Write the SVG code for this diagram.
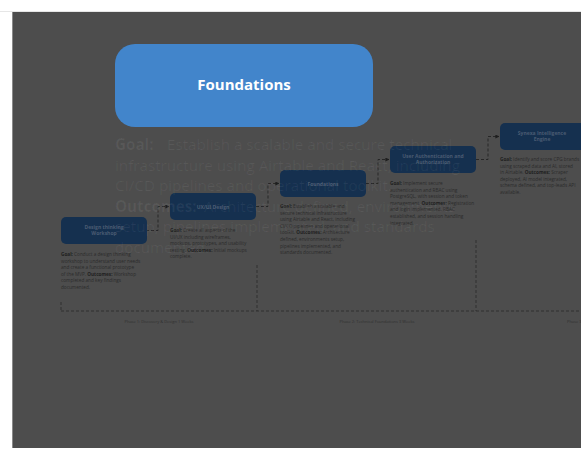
<svg xmlns="http://www.w3.org/2000/svg" width="581" height="466" viewBox="0 0 581 466">
<style>
.node rect{fill:#15304f}
.nl{font-family:"Open Sans","Liberation Sans",sans-serif;font-size:5px;font-weight:bold;fill:#4a5b72;text-anchor:middle}
.desc{font-family:"Open Sans","Liberation Sans",sans-serif;font-size:4.7px;fill:#2b2b2b}
.desc .b{font-weight:bold;fill:#202020}
.conn path{fill:none;stroke:#1e1e1e;stroke-width:0.8;stroke-dasharray:3 2}
.phase line{stroke:#2a2a2a;stroke-width:0.8;stroke-dasharray:3 2}
.pl{font-family:"Open Sans","Liberation Sans",sans-serif;font-size:4px;fill:#303030;text-anchor:middle}
.big{font-family:"Open Sans","Liberation Sans",sans-serif;font-size:15.2px;fill:#ffffff;fill-opacity:0.06}
.big .b{font-weight:bold}
</style>
<defs>
<marker id="ah" viewBox="0 0 10 10" refX="9" refY="5" markerWidth="5" markerHeight="5" orient="auto"><path d="M0,0 L10,5 L0,10 z" fill="#1e1e1e"/></marker>
</defs>
<rect x="0" y="0" width="581" height="466" fill="#ffffff"/>
<line x1="0" y1="11.5" x2="581" y2="11.5" stroke="#e6e6e6" stroke-width="1"/>
<rect x="12" y="12" width="569" height="436" fill="#4d4d4d"/>
<line x1="12.5" y1="12" x2="12.5" y2="448" stroke="#8a8a8a" stroke-width="1"/>

<g id="phases" class="phase">
<line x1="61" y1="311" x2="581" y2="311"/>
<line x1="61" y1="302" x2="61" y2="311"/>
<line x1="257" y1="265" x2="257" y2="311"/>
<line x1="476" y1="240" x2="476" y2="311"/>
<text class="pl" x="159" y="323">Phase 1: Discovery &amp; Design 1 Weeks</text>
<text class="pl" x="377" y="323">Phase 2: Technical Foundations 3 Weeks</text>
<text class="pl" x="567" y="323" style="text-anchor:start">Phase 3</text>
</g>

<g id="connectors" class="conn">
<path d="M146,230.5 H158 V206.5 H169" marker-end="url(#ah)"/>
<path d="M256,206.5 H268 V183.5 H279" marker-end="url(#ah)"/>
<path d="M366,183.5 H378 V159.5 H389" marker-end="url(#ah)"/>
<path d="M476,159.5 H488 V136.5 H499" marker-end="url(#ah)"/>
</g>

<g id="n1" class="node">
<rect x="61" y="217" width="86" height="27" rx="5"/>
<text class="nl" x="104" y="229">Design thinking<tspan x="104" dy="6">Workshop</tspan></text>
<text class="desc" x="61" y="256"><tspan class="b">Goal:</tspan>   Conduct a design thinking<tspan x="61" dy="6.6">workshop to understand user needs</tspan><tspan x="61" dy="6.6">and create a functional prototype</tspan><tspan x="61" dy="6.6">of the MVP.   </tspan><tspan class="b">Outcomes:</tspan>   Workshop<tspan x="61" dy="6.6">completed and key findings</tspan><tspan x="61" dy="6.6">documented.</tspan></text>
</g>

<g id="n2" class="node">
<rect x="170" y="193" width="86" height="27" rx="5"/>
<text class="nl" x="213" y="208.5">UX/UI Design</text>
<text class="desc" x="170" y="232"><tspan class="b">Goal:</tspan>   Create all aspects of the<tspan x="170" dy="6.6">UI/UX including wireframes,</tspan><tspan x="170" dy="6.6">mockups, prototypes, and usability</tspan><tspan x="170" dy="6.6">testing.   </tspan><tspan class="b">Outcomes:</tspan>   Initial mockups<tspan x="170" dy="6.6">complete.</tspan></text>
</g>

<g id="n3" class="node">
<rect x="280" y="170" width="86" height="27" rx="5"/>
<text class="nl" x="323" y="185.5">Foundations</text>
<text class="desc" x="280" y="208"><tspan class="b">Goal:</tspan>   Establish a scalable and<tspan x="280" dy="6.6">secure technical infrastructure</tspan><tspan x="280" dy="6.6">using Airtable and React, including</tspan><tspan x="280" dy="6.6">CI/CD pipelines and operational</tspan><tspan x="280" dy="6.6">toolkit.   </tspan><tspan class="b">Outcomes:</tspan>   Architecture<tspan x="280" dy="6.6">defined, environments setup,</tspan><tspan x="280" dy="6.6">pipelines implemented, and</tspan><tspan x="280" dy="6.6">standards documented.</tspan></text>
</g>

<g id="n4" class="node">
<rect x="390" y="146" width="86" height="27" rx="5"/>
<text class="nl" x="433" y="157.5">User Authentication and<tspan x="433" dy="6">Authorization</tspan></text>
<text class="desc" x="390" y="185"><tspan class="b">Goal:</tspan>   Implement secure<tspan x="390" dy="6.6">authentication and RBAC using</tspan><tspan x="390" dy="6.6">PostgreSQL, with session and token</tspan><tspan x="390" dy="6.6">management.   </tspan><tspan class="b">Outcomes:</tspan>   Registration<tspan x="390" dy="6.6">and login implemented, RBAC</tspan><tspan x="390" dy="6.6">established, and session handling</tspan><tspan x="390" dy="6.6">integrated.</tspan></text>
</g>

<g id="n5" class="node">
<rect x="500" y="123" width="86" height="27" rx="5"/>
<text class="nl" x="542" y="134.5">Synexa Intelligence<tspan x="542" dy="6">Engine</tspan></text>
<text class="desc" x="500" y="161"><tspan class="b">Goal:</tspan>   Identify and score CPG brands<tspan x="500" dy="6.6">using scraped data and AI, stored</tspan><tspan x="500" dy="6.6">in Airtable.   </tspan><tspan class="b">Outcomes:</tspan>   Scraper<tspan x="500" dy="6.6">deployed, AI model integrated,</tspan><tspan x="500" dy="6.6">schema defined, and top-leads API</tspan><tspan x="500" dy="6.6">available.</tspan></text>
</g>

<g id="popup">
<rect x="115" y="44" width="258" height="83" rx="20" fill="#4285cb"/>
<text x="244" y="90" text-anchor="middle" font-family="'Open Sans','Liberation Sans',sans-serif" font-size="15" font-weight="bold" fill="#ffffff">Foundations</text>
<text class="big" x="115" y="150"><tspan class="b">Goal:</tspan><tspan x="167">Establish a scalable and secure technical</tspan><tspan x="115" dy="20.5">infrastructure using Airtable and React, including</tspan><tspan x="115" dy="20.5">CI/CD pipelines and operational toolkit.</tspan><tspan x="115" dy="20.5" class="b">Outcomes:</tspan><tspan x="204">Architecture defined, environments</tspan><tspan x="115" dy="20.5">setup, pipelines implemented, and standards</tspan><tspan x="115" dy="20.5">documented.</tspan></text>
</g>
</svg>
